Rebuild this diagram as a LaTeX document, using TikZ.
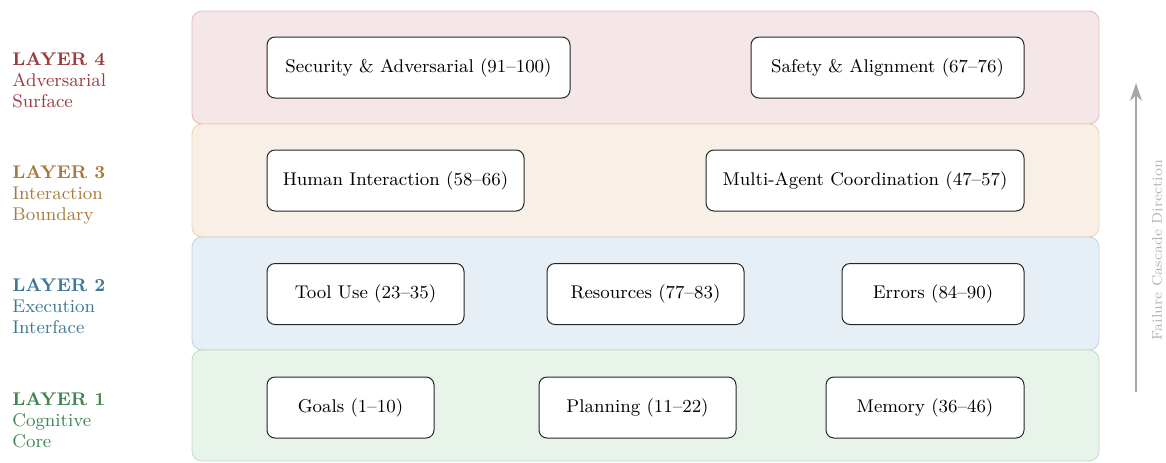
\documentclass[tikz,border=0pt]{standalone}
\usepackage{tikz}
\usetikzlibrary{arrows.meta,positioning}

\definecolor{advRed}{HTML}{9B3A3F}
\definecolor{advFill}{HTML}{F5E6E8}
\definecolor{advLine}{HTML}{E3B9BE}
\definecolor{intBrown}{HTML}{A87A3C}
\definecolor{intFill}{HTML}{F8EFE6}
\definecolor{intLine}{HTML}{EDD3B3}
\definecolor{exeBlue}{HTML}{3D7896}
\definecolor{exeFill}{HTML}{E7EFF6}
\definecolor{exeLine}{HTML}{B6D6E6}
\definecolor{cogGreen}{HTML}{3E8752}
\definecolor{cogFill}{HTML}{E8F3EA}
\definecolor{cogLine}{HTML}{BADFC5}

\begin{document}
\begin{tikzpicture}[
  x=0.5pt, y=-0.5pt,
  band/.style={rounded corners=5pt, line width=0.4pt},
  module/.style={draw=black!85, fill=white, rounded corners=4pt, line width=0.5pt,
    minimum height=30.5pt, inner sep=0pt, font=\fontsize{9.2}{11}\selectfont},
  layerlabel/.style={anchor=north west, align=left, inner sep=0pt,
    font=\fontsize{9.2}{10.6}\selectfont}
]
\useasboundingbox (0,0) rectangle (1166,462);

% layer bands
\draw[band, fill=advFill, draw=advLine] (192,11) rectangle (1099,124);
\draw[band, fill=intFill, draw=intLine] (192,124) rectangle (1099,237);
\draw[band, fill=exeFill, draw=exeLine] (192,237) rectangle (1099,350);
\draw[band, fill=cogFill, draw=cogLine] (192,350) rectangle (1099,461);

% layer names
\node[layerlabel, text=advRed] (lab4) at (12,52) {\textbf{LAYER 4}\\Adversarial\\Surface};
\node[layerlabel, text=intBrown] (lab3) at (12,165) {\textbf{LAYER 3}\\Interaction\\Boundary};
\node[layerlabel, text=exeBlue] (lab2) at (12,278) {\textbf{LAYER 2}\\Execution\\Interface};
\node[layerlabel, text=cogGreen] (lab1) at (12,392) {\textbf{LAYER 1}\\Cognitive\\Core};

% layer 4
\node[module, minimum width=151.5pt] (security) at (418.5,67.5) {Security \& Adversarial (91--100)};
\node[module, minimum width=136.5pt] (safety) at (887.5,67.5) {Safety \& Alignment (67--76)};
% layer 3
\node[module, minimum width=128.5pt] (human) at (395.5,180.5) {Human Interaction (58--66)};
\node[module, minimum width=159pt] (multiagent) at (865,180.5) {Multi-Agent Coordination (47--57)};
% layer 2
\node[module, minimum width=98.5pt] (tooluse) at (365.5,294) {Tool Use (23--35)};
\node[module, minimum width=98.5pt] (resources) at (645.5,294) {Resources (77--83)};
\node[module, minimum width=91pt] (errors) at (933,294) {Errors (84--90)};
% layer 1
\node[module, minimum width=83.5pt] (goals) at (350.5,407.5) {Goals (1--10)};
\node[module, minimum width=98.5pt] (planning) at (637.5,407.5) {Planning (11--22)};
\node[module, minimum width=99pt] (memory) at (925,407.5) {Memory (36--46)};

% cascade arrow
\coordinate (cascadeLow) at (1136,392);
\coordinate (cascadeHigh) at (1136,83);
\draw[-{Stealth[length=9pt,width=6pt]}, draw=black!35, line width=1pt] (cascadeLow) -- (cascadeHigh);
\node[rotate=90, text=black!30, font=\fontsize{7}{8}\selectfont] (cascadeText) at (1157,250) {Failure Cascade Direction};
\end{tikzpicture}
\end{document}
